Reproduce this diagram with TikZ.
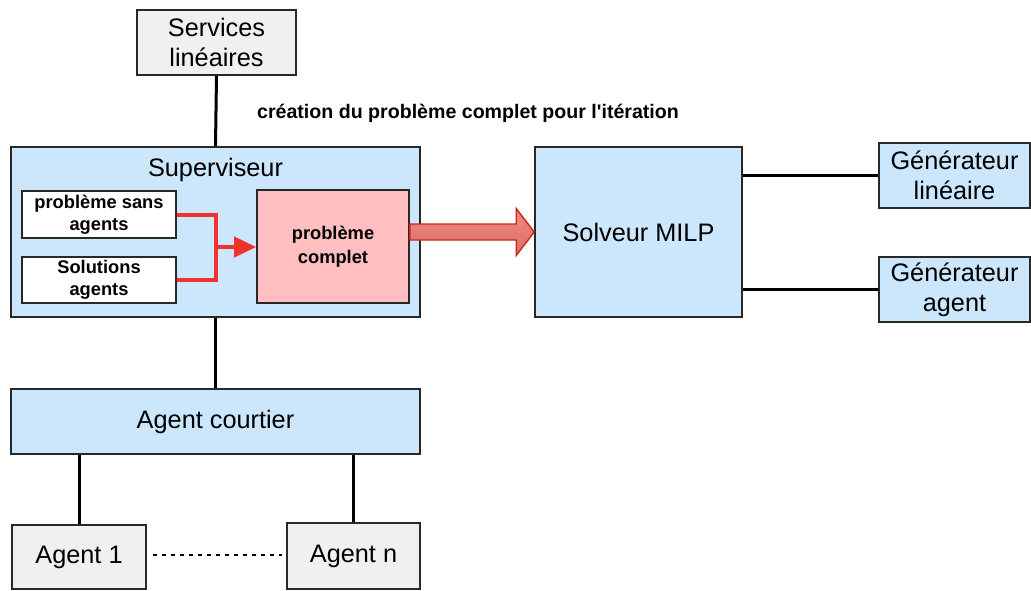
\documentclass[tikz,border=0pt]{standalone}
\usepackage{fontspec}
\setmainfont{Liberation Sans}
\usetikzlibrary{arrows.meta}
\definecolor{boxblue}{RGB}{204,230,252}
\definecolor{boxgray}{RGB}{240,240,240}
\definecolor{boxpink}{RGB}{255,190,192}
\definecolor{redline}{RGB}{240,50,45}
\definecolor{arrowtop}{RGB}{238,140,134}
\definecolor{arrowbot}{RGB}{222,108,100}
\definecolor{arrowedge}{RGB}{200,40,25}
\definecolor{edgegray}{RGB}{40,40,40}
\tikzset{
  box/.style={draw=edgegray, line width=1.6pt, inner sep=0pt, align=center, font=\fontsize{25.3}{30}\selectfont},
  bluebox/.style={box, fill=boxblue},
  graybox/.style={box, fill=boxgray},
  smallbox/.style={box, fill=white, font=\bfseries\fontsize{18.3}{22}\selectfont},
  pinkbox/.style={box, fill=boxpink, font=\bfseries\fontsize{18.3}{23.5}\selectfont},
  link/.style={line width=3pt, black},
  redlink/.style={line width=4pt, redline},
}
\begin{document}
\begin{tikzpicture}[x=1pt,y=-1pt]
\useasboundingbox (0,0) rectangle (1031,590);
% boxes
\node[graybox, minimum width=159pt, minimum height=65pt] (serv) at (216.5,42.5) {Services\\linéaires};
\node[bluebox, minimum width=409pt, minimum height=170pt,
      label={[anchor=north, font=\fontsize{25.3}{30}\selectfont, inner sep=0pt, yshift=-12pt]north:Superviseur}] (sup) at (215.5,232) {};
\node[smallbox, minimum width=154pt, minimum height=47pt] (psa) at (99,214.5) {problème sans\\agents};
\node[smallbox, minimum width=154pt, minimum height=46pt] (sol) at (99,280) {Solutions\\agents};
\node[pinkbox, minimum width=152pt, minimum height=113pt] (pc) at (333,246.5) {problème\\complet};
\node[bluebox, minimum width=207pt, minimum height=170pt] (milp) at (638.5,232) {Solveur MILP};
\node[bluebox, minimum width=151pt, minimum height=65pt] (genlin) at (954.5,175.5) {Générateur\\linéaire};
\node[bluebox, minimum width=151pt, minimum height=65pt] (genag) at (954.5,289.5) {Générateur\\agent};
\node[bluebox, minimum width=409pt, minimum height=65pt] (court) at (215.5,421.5) {Agent courtier};
\node[graybox, minimum width=134pt, minimum height=64pt] (a1) at (79,557) {Agent 1};
\node[graybox, minimum width=133pt, minimum height=66pt] (an) at (353.5,556) {Agent n};
\node[font=\bfseries\fontsize{19.6}{23}\selectfont, inner sep=0pt] (lbl) at (468,113) {création du problème complet pour l\textquotesingle itération};
% black links
\draw[link] (serv.south) -- (sup.north);
\draw[link] (sup.south) -- (court.north);
\draw[link] (a1.north) -- (a1.north |- court.south);
\draw[link] (an.north) -- (an.north |- court.south);
\draw[link] (genlin.west) -- (genlin.west -| milp.east);
\draw[link] (genag.west) -- (genag.west -| milp.east);
\draw[line width=2.8pt, dash pattern=on 4pt off 5pt] ([xshift=6pt]a1.east |- 0,555) -- ([xshift=-4pt]an.west |- 0,555);
% red links
\coordinate (j) at (216,247);
\draw[redlink] (psa.east) -| (j);
\draw[redlink] (sol.east) -| (j);
\draw[redlink, -{Triangle[length=22pt,width=20pt]}] (j) -- (pc.west |- j);
% big arrow
\coordinate (s) at (pc.east |- milp.west);
\coordinate (t) at (milp.west);
\draw[arrowedge, line width=1.4pt, top color=arrowtop, bottom color=arrowbot, line join=miter]
  ([yshift=-8pt]s) -- ([xshift=-18pt,yshift=-8pt]t) -- ([xshift=-18pt,yshift=-23.5pt]t) -- (t)
  -- ([xshift=-18pt,yshift=23.5pt]t) -- ([xshift=-18pt,yshift=8pt]t) -- ([yshift=8pt]s) -- cycle;
\end{tikzpicture}
\end{document}
